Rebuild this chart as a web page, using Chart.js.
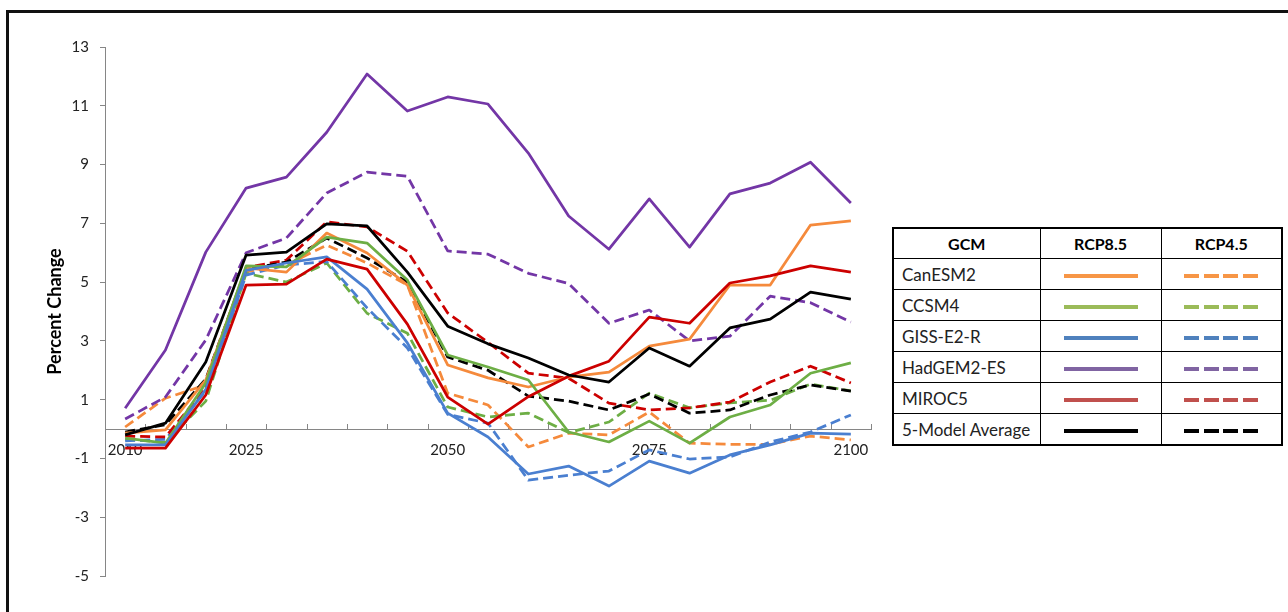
<!DOCTYPE html>
<html>
<head>
<meta charset="utf-8">
<script src="https://cdn.jsdelivr.net/npm/chart.js@4.4.1/dist/chart.umd.min.js"></script>
<style>
  html, body { margin: 0; padding: 0; background: #fff; width: 1288px; height: 612px; overflow: hidden; }
  body { position: relative; font-family: Lato, "Liberation Sans", sans-serif; color: #000; }
  #frame { position: absolute; left: 6px; top: 10px; width: 1400px; height: 700px; border: 3px solid #111; }
  #wrap { position: absolute; left: 0; top: 0; width: 890px; height: 612px; }
  table.key { position: absolute; left: 892px; top: 227px; border-collapse: collapse; table-layout: fixed; border: 2px solid #000; }
  table.key td, table.key th { border: 1px solid #000; padding: 0; height: 30px; }
  table.key th { font-weight: bold; font-size: 16px; text-align: center; height: 29px; }
  table.key td.name { font-size: 17px; padding-left: 8px; color: #222; }
  table.key td.sample { text-align: center; }
  .line { display: inline-block; width: 74px; height: 4px; vertical-align: middle; }
</style>
</head>
<body>
<div id="frame"></div>
<div id="wrap"><canvas id="chart" width="890" height="612"></canvas></div>
<table class="key" id="key">
  <colgroup><col style="width:147px"><col style="width:121px"><col style="width:121px"></colgroup>
  <thead><tr><th>GCM</th><th>RCP8.5</th><th>RCP4.5</th></tr></thead>
  <tbody id="keyBody"></tbody>
</table>
<script>
const YEARS = [2010, 2015, 2020, 2025, 2030, 2035, 2040, 2045, 2050, 2055, 2060, 2065, 2070, 2075, 2080, 2085, 2090, 2095, 2100];
const SHOWN_YEARS = [2010, 2025, 2050, 2075, 2100];
const Y_TICKS = [-5, -3, -1, 1, 3, 5, 7, 9, 11, 13];

const MODELS = ['CanESM2', 'CCSM4', 'GISS-E2-R', 'HadGEM2-ES', 'MIROC5', '5-Model Average'];
const LINE_COLORS = ['#F58A3C', '#6DAE45', '#4A7FD0', '#7336A6', '#CC0000', '#000000'];
const KEY_COLORS = ['#F79646', '#9BBB59', '#4F81BD', '#8064A2', '#C0504D', '#000000'];

// RCP8.5 (solid)
const canesm2_85 = [-0.14, -0.03, 1.67, 5.48, 5.34, 6.67, 5.99, 4.9, 2.18, 1.74, 1.43, 1.77, 1.94, 2.82, 3.06, 4.9, 4.9, 6.94, 7.08];
const ccsm4_85 = [-0.31, -0.48, 1.57, 5.55, 5.52, 6.53, 6.33, 5.07, 2.52, 2.11, 1.67, -0.1, -0.44, 0.27, -0.48, 0.41, 0.82, 1.9, 2.25];
const giss_85 = [-0.54, -0.54, 1.35, 5.4, 5.65, 5.86, 4.76, 2.93, 0.54, -0.27, -1.53, -1.26, -1.94, -1.09, -1.5, -0.88, -0.54, -0.14, -0.17];
const hadgem_85 = [0.71, 2.69, 6.02, 8.2, 8.57, 10.1, 12.08, 10.82, 11.3, 11.06, 9.39, 7.25, 6.12, 7.83, 6.19, 8.0, 8.37, 9.08, 7.69];
const miroc5_85 = [-0.65, -0.65, 1.16, 4.9, 4.93, 5.78, 5.44, 3.57, 1.09, 0.17, 1.1, 1.8, 2.31, 3.81, 3.6, 4.97, 5.21, 5.55, 5.34];
const avg_85 = [-0.2, 0.2, 2.28, 5.92, 6.02, 6.98, 6.91, 5.34, 3.5, 2.9, 2.42, 1.84, 1.6, 2.76, 2.14, 3.44, 3.74, 4.66, 4.42];

// RCP4.5 (dashed)
const canesm2_45 = [0.07, 1.05, 1.5, 5.35, 5.58, 6.26, 5.65, 4.9, 1.22, 0.82, -0.61, -0.14, -0.2, 0.58, -0.48, -0.52, -0.52, -0.24, -0.37];
const ccsm4_45 = [-0.35, -0.45, 0.95, 5.3, 5.0, 5.65, 3.94, 3.26, 0.75, 0.41, 0.54, -0.12, 0.24, 1.22, 0.72, 0.89, 0.98, 1.53, 1.3];
const giss_45 = [-0.4, -0.35, 1.3, 5.24, 5.58, 5.7, 4.12, 2.76, 0.5, 0.2, -1.74, -1.57, -1.43, -0.71, -1.02, -0.95, -0.44, -0.1, 0.48];
const hadgem_45 = [0.34, 1.09, 3.03, 6.0, 6.5, 8.03, 8.74, 8.6, 6.06, 5.95, 5.3, 4.95, 3.6, 4.05, 3.0, 3.16, 4.52, 4.3, 3.64];
const miroc5_45 = [-0.24, -0.27, 1.4, 5.5, 5.75, 7.05, 6.88, 6.05, 3.95, 2.95, 1.9, 1.73, 0.88, 0.65, 0.72, 0.92, 1.6, 2.14, 1.57];
const avg_45 = [-0.1, 0.15, 1.7, 5.44, 5.68, 6.5, 5.82, 5.0, 2.45, 2.0, 1.12, 0.95, 0.65, 1.19, 0.54, 0.65, 1.16, 1.5, 1.29];

const SERIES_85 = [canesm2_85, ccsm4_85, giss_85, hadgem_85, miroc5_85, avg_85];
const SERIES_45 = [canesm2_45, ccsm4_45, giss_45, hadgem_45, miroc5_45, avg_45];

const AXIS_GREY = '#868686';
const FONT = 'Lato, "Liberation Sans", sans-serif';

function lineSet(label, data, color, dashed) {
  return {
    label: label,
    data: data,
    borderColor: color,
    backgroundColor: color,
    borderWidth: 2.75,
    borderDash: dashed ? [10, 5] : [],
    borderJoinStyle: 'round',
    pointRadius: 0,
    tension: 0,
    fill: false,
  };
}

function buildDatasets() {
  const sets = [];
  // black on top, dashed under solid
  for (let i = MODELS.length - 1; i >= 0; i--) {
    sets.push(lineSet(MODELS[i] + ' RCP8.5', SERIES_85[i], LINE_COLORS[i], false));
  }
  for (let i = MODELS.length - 1; i >= 0; i--) {
    sets.push(lineSet(MODELS[i] + ' RCP4.5', SERIES_45[i], LINE_COLORS[i], true));
  }
  return sets;
}

// Excel-style tick marks between categories, pointing up from the zero line
const xTickMarks = {
  id: 'xTickMarks',
  beforeDatasetsDraw(chart) {
    const ctx = chart.ctx;
    const xs = chart.scales.x;
    const y0 = Math.round(chart.scales.y.getPixelForValue(0));
    const step = xs.getPixelForValue(1) - xs.getPixelForValue(0);
    ctx.save();
    ctx.strokeStyle = AXIS_GREY;
    ctx.lineWidth = 1;
    ctx.beginPath();
    for (let i = 0; i < YEARS.length; i++) {
      const px = Math.round(xs.getPixelForValue(i) + step / 2) + 0.5;
      ctx.moveTo(px, y0);
      ctx.lineTo(px, y0 - 5);
    }
    ctx.stroke();
    ctx.restore();
  }
};

function renderKey() {
  const rows = MODELS.map((m, i) => {
    const c = KEY_COLORS[i];
    const dash = `background:repeating-linear-gradient(90deg, ${c} 0 15px, transparent 15px 19.5px)`;
    return `<tr>
      <td class="name">${m}</td>
      <td class="sample"><span class="line" style="background:${c}"></span></td>
      <td class="sample"><span class="line" style="${dash}"></span></td>
    </tr>`;
  }).join('');
  document.getElementById('keyBody').innerHTML = rows;
}

function renderChart() {
  const ctx = document.getElementById('chart').getContext('2d');
  new Chart(ctx, {
    type: 'line',
    data: { labels: YEARS.map(String), datasets: buildDatasets() },
    plugins: [xTickMarks],
    options: {
      responsive: false,
      animation: false,
      devicePixelRatio: 1,
      layout: { padding: { left: 41, top: 47, right: 19, bottom: 36 } },
      plugins: { legend: { display: false }, tooltip: { enabled: false } },
      scales: {
        x: {
          type: 'category',
          axis: 'x',
          position: { y: 0 },
          offset: true,
          grid: { display: false, drawTicks: false },
          border: { display: true, color: AXIS_GREY, width: 1 },
          ticks: {
            autoSkip: false,
            maxRotation: 0,
            padding: 12,
            color: '#222',
            font: { family: FONT, size: 15 },
            callback: (v, i) => SHOWN_YEARS.includes(YEARS[i]) ? String(YEARS[i]) : '',
          },
        },
        y: {
          min: -5,
          max: 13,
          afterBuildTicks: s => { s.ticks = Y_TICKS.map(v => ({ value: v })); },
          afterFit: s => { s.width = 64; },
          grid: { drawOnChartArea: false, drawTicks: true, tickLength: 5, color: AXIS_GREY },
          border: { display: true, color: AXIS_GREY, width: 1 },
          ticks: { padding: 11, color: '#222', font: { family: FONT, size: 15 } },
          title: {
            display: true,
            text: 'Percent Change',
            color: '#000',
            font: { family: FONT, size: 18, weight: 'bold' },
            padding: { top: 3, bottom: 4 },
          },
        },
      },
    },
  });
}

renderKey();
renderChart();
</script>
</body>
</html>
